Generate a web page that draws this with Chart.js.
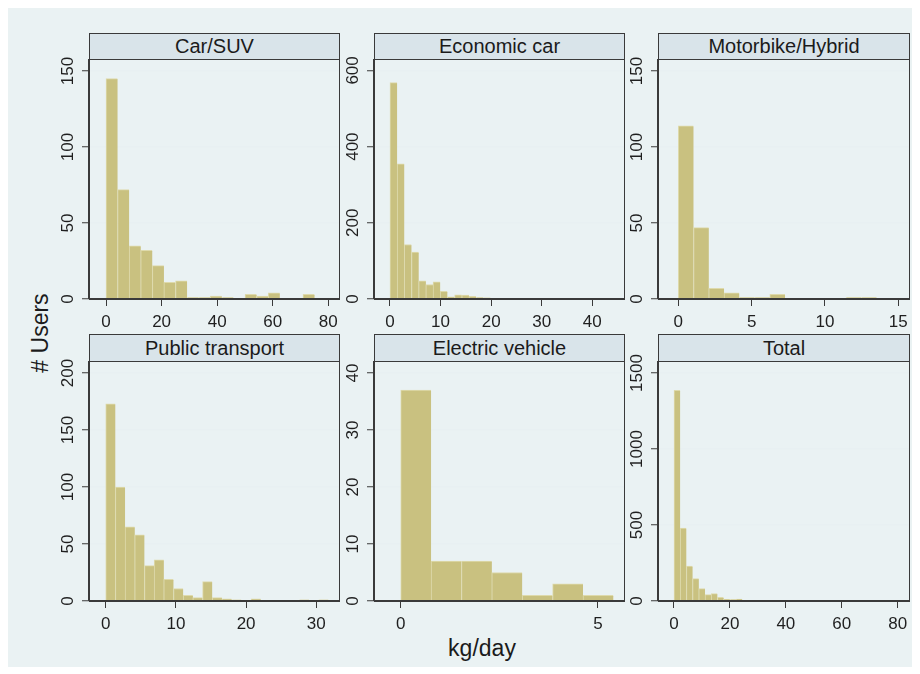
<!DOCTYPE html>
<html>
<head>
<meta charset="utf-8">
<script src="https://cdn.jsdelivr.net/npm/chart.js@4.4.1/dist/chart.umd.min.js"></script>
<style>
  html, body { margin: 0; padding: 0; background: #ffffff; }
  #fig { position: relative; width: 920px; height: 674px; overflow: hidden; background: #ffffff; }
  #bg { position: absolute; left: 8px; top: 8px; width: 904px; height: 659px; background: rgb(234,242,243); }
  .strip { position: absolute; box-sizing: border-box; border: 1px solid #3a3a3a; background: #d9e4ea;
           font-family: "Liberation Sans", Arial, sans-serif; font-size: 20px; color: #1b1b1b;
           text-align: center; white-space: nowrap; }
  .pc { position: absolute; display: block; }
  .atitle { position: absolute; font-family: "Liberation Sans", Arial, sans-serif; font-size: 23px; color: #1b1b1b;
            white-space: nowrap; transform: translate(-50%, -50%); }
  #ytitle { transform: translate(-50%, -50%) rotate(-90deg); }
</style>
</head>
<body>
<div id="fig">
  <div id="bg"></div>
  <div id="ytitle" class="atitle" style="left:40px; top:333px;"># Users</div>
  <div id="xtitle" class="atitle" style="left:482px; top:648px;">kg/day</div>
</div>
<script>
// ---- histogram counts (users per kg/day bin), bins start at 0 ----
const carSuvCounts      = [145, 72, 35, 32, 22, 11, 12, 1, 1, 2, 1, 0, 3, 2, 4, 0, 0, 3];
const carSuvBinWidth    = 4.17;
const economicCounts    = [568, 355, 143, 123, 48, 38, 45, 20, 6, 11, 10, 7, 4, 3, 2, 1, 1, 1, 0, 0, 0, 0, 0, 0, 0, 1, 0, 0, 0, 0, 1];
const economicBinWidth  = 1.42;
const motorbikeCounts   = [114, 47, 7, 4, 1, 1, 3, 0, 0, 0, 0, 1, 1];
const motorbikeBinWidth = 1.04;
const publicCounts      = [173, 100, 65, 58, 31, 36, 19, 11, 5, 3, 17, 3, 2, 1, 0, 2, 0, 0, 0, 0, 1, 0, 1];
const publicBinWidth    = 1.38;
const electricCounts    = [37, 7, 7, 5, 1, 3, 1];
const electricBinWidth  = 0.77;
const totalCounts       = [1386, 480, 230, 147, 81, 42, 48, 24, 11, 9, 13, 5, 3, 4, 3, 3, 2, 2, 1, 3, 2, 1, 2, 1, 3, 1, 2, 2, 1, 0, 1, 1, 0, 3];
const totalBinWidth     = 2.22;

// ---- tick labels ----
const carSuvXTicks    = [0, 20, 40, 60, 80];
const carSuvYTicks    = [0, 50, 100, 150];
const economicXTicks  = [0, 10, 20, 30, 40];
const economicYTicks  = [0, 200, 400, 600];
const motorbikeXTicks = [0, 5, 10, 15];
const motorbikeYTicks = [0, 50, 100, 150];
const publicXTicks    = [0, 10, 20, 30];
const publicYTicks    = [0, 50, 100, 150, 200];
const electricXTicks  = [0, 5];
const electricYTicks  = [0, 10, 20, 30, 40];
const totalXTicks     = [0, 20, 40, 60, 80];
const totalYTicks     = [0, 500, 1000, 1500];

const panelTitles = ['Car/SUV', 'Economic car', 'Motorbike/Hybrid', 'Public transport', 'Electric vehicle', 'Total'];

// ---- layout of the 3x2 grid (page pixels) and axis ranges ----
const colLeft  = [89, 374, 658];
const colRight = [339, 624, 909];
const rowStrip = [33, 334];
const rowTop   = [59, 361];
const rowBot   = [299, 601];

const panels = [
  { title: panelTitles[0], counts: carSuvCounts,    bw: carSuvBinWidth,    xt: carSuvXTicks,    yt: carSuvYTicks,    col: 0, row: 0, xmin: -6.12, xmax: 83.85, ymax: 157.9 },
  { title: panelTitles[1], counts: economicCounts,  bw: economicBinWidth,  xt: economicXTicks,  yt: economicYTicks,  col: 1, row: 0, xmin: -3.16, xmax: 46.27, ymax: 630 },
  { title: panelTitles[2], counts: motorbikeCounts, bw: motorbikeBinWidth, xt: motorbikeXTicks, yt: motorbikeYTicks, col: 2, row: 0, xmin: -1.384, xmax: 15.73, ymax: 157.9 },
  { title: panelTitles[3], counts: publicCounts,    bw: publicBinWidth,    xt: publicXTicks,    yt: publicYTicks,    col: 0, row: 1, xmin: -2.38, xmax: 33.23, ymax: 210.5 },
  { title: panelTitles[4], counts: electricCounts,  bw: electricBinWidth,  xt: electricXTicks,  yt: electricYTicks,  col: 1, row: 1, xmin: -0.677, xmax: 5.659, ymax: 42.1 },
  { title: panelTitles[5], counts: totalCounts,     bw: totalBinWidth,     xt: totalXTicks,     yt: totalYTicks,     col: 2, row: 1, xmin: -5.72, xmax: 84.05, ymax: 1579 }
];

const FONT_FAMILY = '"Liberation Sans", Arial, sans-serif';
const TICK_SIZE = 17;
const LINE = '#3a3a3a';
const GRID = 'rgb(232,240,242)';
const BAR_FILL = 'rgb(201,193,128)';
const BAR_EDGE = 'rgb(222,218,172)';
const Y_AXIS_W = 40;     // room for rotated y labels
const X_AXIS_H = 40;     // room for x tick labels
const TOP_PAD = 16;      // room above the plot for the top y label
const RIGHT_PAD = 11;
const TICK_LEN = 7;
const LABEL_CENTER_OFFSET = 20.6; // distance from plot edge to centre of y labels

const measureCtx = document.createElement('canvas').getContext('2d');
measureCtx.font = TICK_SIZE + 'px ' + FONT_FAMILY;
const textW = s => measureCtx.measureText(s).width;

// plot frame drawn round the chart area
const framePlugin = {
  id: 'plotFrame',
  afterDraw(chart) {
    const a = chart.chartArea, ctx = chart.ctx;
    ctx.save();
    ctx.strokeStyle = LINE;
    ctx.lineWidth = 1;
    ctx.strokeRect(Math.round(a.left) - 0.5, Math.round(a.top) + 0.5,
                   Math.round(a.right - a.left) + 1, Math.round(a.bottom - a.top) - 1);
    ctx.restore();
  }
};

const fig = document.getElementById('fig');

panels.forEach(p => {
  const pl = colLeft[p.col], pr = colRight[p.col];
  const pt = rowTop[p.row], pb = rowBot[p.row];

  // chart canvas (transparent above the plot, so the strip shows through)
  const W = (pr - pl) + Y_AXIS_W + RIGHT_PAD;
  const H = (pb - pt) + X_AXIS_H + TOP_PAD;
  const cv = document.createElement('canvas');
  cv.className = 'pc';
  cv.width = W; cv.height = H;
  cv.style.width = W + 'px'; cv.style.height = H + 'px';
  cv.style.left = (pl - Y_AXIS_W) + 'px';
  cv.style.top = (pt - TOP_PAD) + 'px';
  fig.appendChild(cv);

  // strip title
  const strip = document.createElement('div');
  strip.className = 'strip';
  const sh = pt - rowStrip[p.row] + 1;
  strip.style.left = pl + 'px';
  strip.style.top = rowStrip[p.row] + 'px';
  strip.style.width = (pr - pl + 1) + 'px';
  strip.style.height = sh + 'px';
  strip.style.lineHeight = (sh - 2) + 'px';
  strip.textContent = p.title;
  fig.appendChild(strip);

  const widest = Math.max(...p.yt.map(v => textW(String(v))));
  const yPad = LABEL_CENTER_OFFSET - TICK_LEN - widest / 2;

  new Chart(cv, {
    type: 'bar',
    data: {
      datasets: [{
        data: p.counts.map((c, i) => ({ x: (i + 0.5) * p.bw, y: c })),
        backgroundColor: BAR_FILL,
        borderColor: BAR_EDGE,
        borderWidth: { left: 1, right: 0, top: 1, bottom: 0 },
        borderSkipped: false,
        barPercentage: 1,
        categoryPercentage: 1
      }]
    },
    options: {
      responsive: false,
      animation: false,
      devicePixelRatio: 1,
      layout: { padding: { left: 0, right: RIGHT_PAD, top: TOP_PAD, bottom: 0 } },
      plugins: { legend: { display: false }, tooltip: { enabled: false }, title: { display: false } },
      scales: {
        x: {
          type: 'linear',
          min: p.xmin, max: p.xmax,
          offset: false,
          grid: { offset: false, drawOnChartArea: false, drawTicks: true, tickLength: TICK_LEN, tickColor: LINE, tickWidth: 1 },
          border: { display: true, color: LINE, width: 1 },
          ticks: { color: '#1f1f1f', font: { family: FONT_FAMILY, size: TICK_SIZE }, padding: 6,
                   maxRotation: 0, minRotation: 0, autoSkip: false, callback: v => String(v) },
          afterBuildTicks: s => { s.ticks = p.xt.map(v => ({ value: v })); },
          afterFit: s => { s.height = X_AXIS_H; s.paddingLeft = 0; s.paddingRight = 0; }
        },
        y: {
          type: 'linear',
          min: 0, max: p.ymax,
          grid: { drawOnChartArea: true, drawTicks: true, tickLength: TICK_LEN, tickColor: LINE, tickWidth: 1,
                  lineWidth: 1.5,
                  color: c => (c.tick && c.tick.value === 0) ? 'rgba(0,0,0,0)' : GRID },
          border: { display: true, color: LINE, width: 1 },
          ticks: { color: '#1f1f1f', font: { family: FONT_FAMILY, size: TICK_SIZE }, padding: yPad,
                   minRotation: 90, maxRotation: 90, crossAlign: 'center', autoSkip: false,
                   callback: v => String(v) },
          afterBuildTicks: s => { s.ticks = p.yt.map(v => ({ value: v })); },
          afterFit: s => { s.width = Y_AXIS_W; s.paddingTop = 0; s.paddingBottom = 0; }
        }
      }
    },
    plugins: [framePlugin]
  });
});
</script>
</body>
</html>
